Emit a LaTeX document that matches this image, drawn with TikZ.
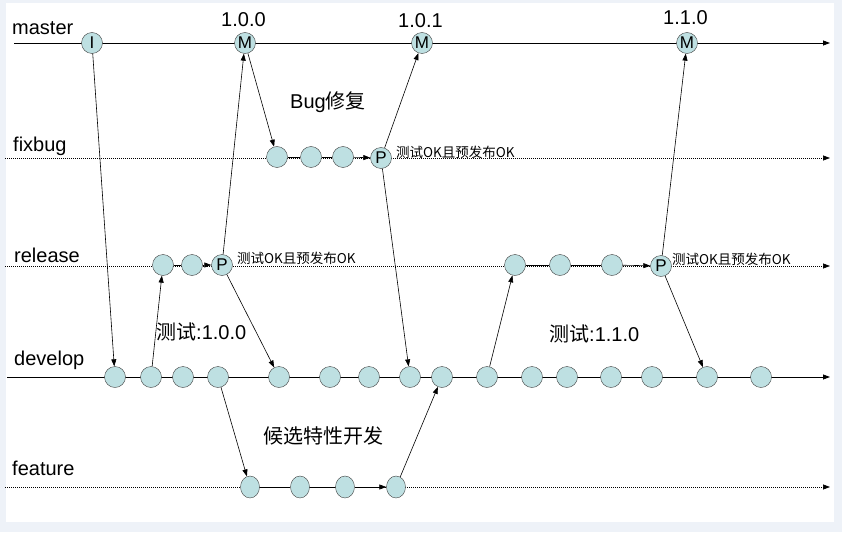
\documentclass[tikz,border=0pt]{standalone}
\usepackage{fontspec}
\setmainfont{Liberation Sans}
\newfontfamily\cjk{Noto Sans CJK SC}
\usetikzlibrary{arrows.meta,shapes.geometric}
\definecolor{nodefill}{RGB}{190,224,226}
\definecolor{framebg}{RGB}{238,242,248}

\begin{document}
\begin{tikzpicture}[x=1pt,y=-1pt]
	\tikzstyle{commit}=[circle,draw=black!75,fill=nodefill,minimum size=21pt,inner sep=0pt,font=\fontsize{17}{18}\selectfont]
	\tikzstyle{fcommit}=[ellipse,draw=black!75,fill=nodefill,minimum width=19pt,minimum height=22pt,inner sep=0pt]
	\tikzstyle{edge}=[draw,line width=0.6pt,-{Triangle[length=7pt,width=5pt]}]
	\tikzstyle{link}=[draw,line width=0.8pt]
	\tikzstyle{mainline}=[draw,line width=0.8pt,-{Triangle[length=7pt,width=5pt]}]
	\tikzstyle{dotline}=[draw,line width=0.7pt,dash pattern=on 1pt off 1pt,-{Triangle[length=7pt,width=5pt]}]
	\tikzstyle{bname}=[anchor=base west,inner sep=0pt,font=\fontsize{20}{24}\selectfont]
	\tikzstyle{big}=[anchor=base west,inner sep=0pt,font=\fontsize{20}{24}\selectfont]
	\tikzstyle{small}=[anchor=base west,inner sep=0pt,font=\cjk\fontsize{13.5}{16}\selectfont]

	% frame
	\fill[framebg] (0,0) rectangle (842,532);
	\fill[white] (6,3) rectangle (834,522);

	% branch lines
	\coordinate (ms) at (14,43);   \coordinate (me) at (830,43);
	\coordinate (bs) at (5,158);   \coordinate (be) at (830,158);
	\coordinate (rs) at (5,266);   \coordinate (re) at (830,266);
	\coordinate (ds) at (7,377);   \coordinate (de) at (830,377);
	\coordinate (fs) at (5,487);   \coordinate (fe) at (830,487);
	\draw[mainline] (ms) -- (me);
	\draw[dotline] (bs) -- (be);
	\draw[dotline] (rs) -- (re);
	\draw[mainline] (ds) -- (de);
	\draw[dotline] (fs) -- (fe);

	\node[bname] (tmaster) at (12,35) {master};
	\node[bname] (tfixbug) at (13,151) {fixbug};
	\node[bname] (trelease) at (14,262) {release};
	\node[bname] (tdevelop) at (14,365) {develop};
	\node[bname] (tfeature) at (12,475) {feature};

	% master
	\node[commit] (m1) at (92,43) {I};
	\node[commit] (m2) at (245,43) {M};
	\node[commit] (m3) at (422,43) {M};
	\node[commit] (m4) at (687,43) {M};
	\node[big] (v1) at (221,27) {1.0.0};
	\node[big] (v2) at (398,28) {1.0.1};
	\node[big] (v3) at (663,25) {1.1.0};

	% fixbug
	\node[commit] (b1) at (277,157) {};
	\node[commit] (b2) at (311,157) {};
	\node[commit] (b3) at (343,157) {};
	\node[commit] (b4) at (381,158) {P};

	% release
	\node[commit] (r1) at (163,265) {};
	\node[commit] (r2) at (192,265) {};
	\node[commit] (r3) at (222,265) {P};
	\node[commit] (r4) at (515,265) {};
	\node[commit] (r5) at (560,265) {};
	\node[commit] (r6) at (612,265) {};
	\node[commit] (r7) at (661,266) {P};

	% develop
	\foreach \x [count=\i] in {115,151,183,218,279,330,369,410,442,487,532,567,611,652,707,761}
		\node[commit] (d\i) at (\x,377) {};

	% feature
	\node[fcommit] (f1) at (250,487) {};
	\node[fcommit] (f2) at (300,487) {};
	\node[fcommit] (f3) at (345,487) {};
	\node[fcommit] (f4) at (396,487) {};

	% texts
	\node[big] (t1) at (290,108) {Bug{\cjk 修复}};
	\node[big] (t2) at (156,339) {{\cjk 测试}:1.0.0};
	\node[big] (t3) at (549,341) {{\cjk 测试}:1.1.0};
	\node[big,font=\cjk\fontsize{20}{24}\selectfont] (t4) at (263,443) {候选特性开发};
	\node[small] (n1) at (396,157) {测试OK且预发布OK};
	\node[small] (n2) at (237,263) {测试OK且预发布OK};
	\node[small] (n3) at (672,264) {测试OK且预发布OK};

	% commits along branches
	\draw[link] (b1) -- (b2) -- (b3);
	\draw[edge] (b3) -- (b4);
	\draw[link] (r1) -- (r2);
	\draw[edge] (r2) -- (r3);
	\draw[link] (r4) -- (r5) -- (r6);
	\draw[edge] (r6) -- (r7);
	\draw[link] (f1) -- (f2) -- (f3);
	\draw[edge] (f3) -- (f4);

	% merges
	\draw[edge] (m1) -- (d1);
	\draw[edge] (d2) -- (r1);
	\draw[edge] (r3) -- (m2);
	\draw[edge] (r3) -- (d5);
	\draw[edge] (m2) -- (b1);
	\draw[edge] (b4) -- (m3);
	\draw[edge] (b4) -- (d8);
	\draw[edge] (d4) -- (f1);
	\draw[edge] (f4) -- (d9);
	\draw[edge] (d10) -- (r4);
	\draw[edge] (r7) -- (m4);
	\draw[edge] (r7) -- (d15);
\end{tikzpicture}
\end{document}
